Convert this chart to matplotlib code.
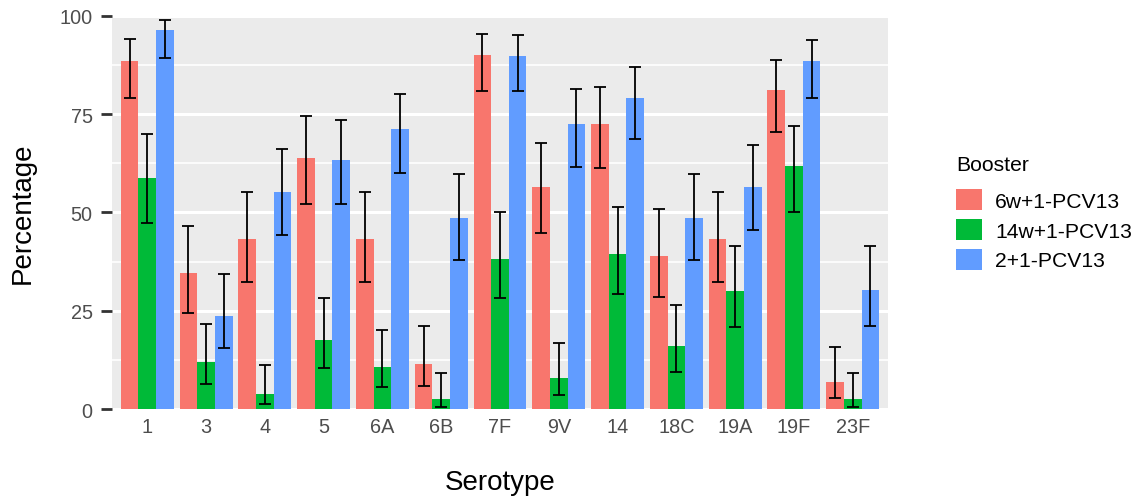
import numpy as np
import matplotlib
matplotlib.use("Agg")
import matplotlib.pyplot as plt

plt.rcParams['font.family'] = ['Liberation Sans', 'DejaVu Sans']

serotypes = ["1", "3", "4", "5", "6A", "6B", "7F", "9V", "14", "18C", "19A", "19F", "23F"]
groups = ["6w+1-PCV13", "14w+1-PCV13", "2+1-PCV13"]
colors = ["#F8766D", "#00BA38", "#619CFF"]

pct_6w = [88.6, 34.6, 43.3, 63.7, 43.3, 11.5, 90.0, 56.5, 72.5, 39.0, 43.3, 81.2, 6.9]
lo_6w = [79.0, 24.4, 32.4, 52.0, 32.4, 5.9, 80.8, 44.8, 61.2, 28.6, 32.4, 70.5, 2.8]
hi_6w = [94.1, 46.6, 55.3, 74.4, 55.3, 21.1, 95.3, 67.7, 81.8, 50.9, 55.3, 88.8, 15.7]

pct_14w = [58.8, 12.0, 3.7, 17.6, 10.7, 2.5, 38.2, 7.9, 39.5, 16.1, 30.0, 61.7, 2.5]
lo_14w = [47.4, 6.4, 1.3, 10.5, 5.6, 0.5, 28.1, 3.6, 29.3, 9.5, 20.8, 50.2, 0.5]
hi_14w = [69.8, 21.6, 11.3, 28.1, 20.1, 9.2, 50.0, 16.8, 51.3, 26.5, 41.4, 72.0, 9.2]

pct_21 = [96.4, 23.6, 55.2, 63.2, 71.2, 48.5, 89.7, 72.5, 79.0, 48.5, 56.5, 88.5, 30.3]
lo_21 = [89.3, 15.4, 44.3, 52.0, 60.1, 37.8, 80.8, 61.5, 68.7, 37.8, 45.5, 79.2, 21.1]
hi_21 = [98.8, 34.4, 66.2, 73.4, 80.2, 59.8, 95.1, 81.3, 87.0, 59.8, 67.2, 93.9, 41.4]

yticks = [0, 25, 50, 75, 100]

series = [(pct_6w, lo_6w, hi_6w), (pct_14w, lo_14w, hi_14w), (pct_21, lo_21, hi_21)]

W, H = 1142, 502
fig = plt.figure(figsize=(W / 100, H / 100), dpi=100)
ax = fig.add_axes([112 / W, 1 - 410 / H, (888 - 112) / W, (410 - 16.7) / H])
ax.set_facecolor("#EBEBEB")

x = np.arange(len(serotypes))
bw = 0.3
for i, ((v, lo, hi), name, c) in enumerate(zip(series, groups, colors)):
    xs = x + (i - 1) * bw
    v = np.array(v); lo = np.array(lo); hi = np.array(hi)
    ax.bar(xs, v, width=bw, color=c, label=name, zorder=2)
    ax.errorbar(xs, v, yerr=[v - lo, hi - v], fmt="none", ecolor="black",
                elinewidth=1.3, capsize=4.0, capthick=1.3, zorder=3)

ax.set_xlim(-0.6, len(serotypes) - 0.4)
ax.set_ylim(0, 100)
ax.set_yticks(yticks)
ax.set_yticklabels([str(t) for t in yticks])
ax.set_yticks([12.5, 37.5, 62.5, 87.5], minor=True)
ax.set_xticks(x)
ax.set_xticklabels(serotypes)
ax.grid(axis="y", which="major", color="white", linewidth=2.2, zorder=0)
ax.grid(axis="y", which="minor", color="white", linewidth=1.2, zorder=0)
ax.set_axisbelow(True)
for s in ax.spines.values():
    s.set_visible(False)
ax.tick_params(axis="y", which="major", length=8, width=2.0, color="#333333",
               labelsize=14.3, labelcolor="#4D4D4D", pad=6)
ax.tick_params(axis="y", which="minor", length=0)
ax.tick_params(axis="x", length=0, labelsize=14.3, labelcolor="#4D4D4D", pad=5.5)

fig.text(500 / W, 1 - 490 / H, "Serotype", ha="center", va="baseline", fontsize=20)
fig.text(23 / W, 1 - 213 / H, "Percentage", ha="center", va="center",
         rotation=90, fontsize=20)

leg = ax.legend(loc="upper left", bbox_to_anchor=(956 / W, 1 - 156 / H),
                bbox_transform=fig.transFigure, frameon=False, title="Booster",
                fontsize=15.2, title_fontsize=15.2, borderpad=0, borderaxespad=0,
                handlelength=1.23, handleheight=1.16, labelspacing=0.38,
                handletextpad=0.62, alignment="left")
leg._legend_box.sep = 11.0

fig.savefig("out.png", dpi=100)
